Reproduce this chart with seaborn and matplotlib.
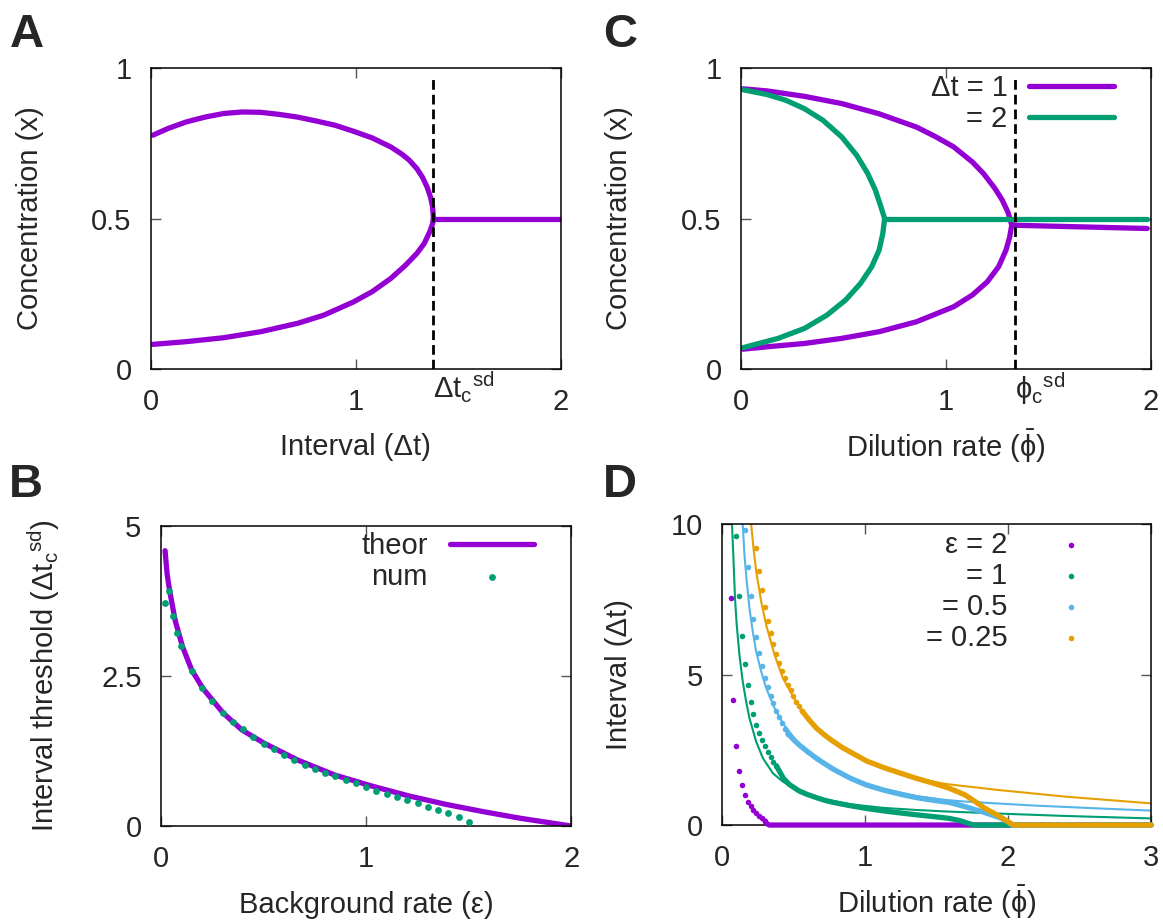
import numpy as np
import pandas as pd
import seaborn as sns
import matplotlib.pyplot as plt

sns.set_style("ticks")
plt.rcParams["font.family"] = ["Liberation Sans", "DejaVu Sans"]
plt.rcParams["mathtext.fontset"] = "custom"
plt.rcParams["mathtext.rm"] = "Liberation Sans"
plt.rcParams["mathtext.it"] = "Liberation Sans:italic"
plt.rcParams["mathtext.bf"] = "Liberation Sans:bold"
plt.rcParams["mathtext.fallback"] = "stixsans"

PURPLE = "#9400D3"
GREEN = "#009E73"
BLUE = "#56B4E9"
ORANGE = "#E69F00"
FS = 21

# ---- panel A: concentration vs interval ----
a_upper_x = [0.01, 0.082, 0.172, 0.263, 0.354, 0.444, 0.535, 0.626, 0.716, 0.807, 0.898, 0.988,
             1.079, 1.170, 1.224, 1.260, 1.297, 1.324, 1.347, 1.364, 1.374, 1.378]
a_upper_y = [0.777, 0.799, 0.821, 0.837, 0.849, 0.854, 0.853, 0.846, 0.837, 0.824, 0.810, 0.790,
             0.768, 0.738, 0.714, 0.694, 0.666, 0.638, 0.605, 0.571, 0.538, 0.5]
a_lower_x = [0.01, 0.172, 0.354, 0.535, 0.716, 0.843, 0.988, 1.079, 1.170, 1.242, 1.297, 1.333,
             1.360, 1.374, 1.378]
a_lower_y = [0.082, 0.091, 0.104, 0.124, 0.152, 0.179, 0.223, 0.257, 0.301, 0.345, 0.384, 0.417,
             0.456, 0.483, 0.5]
a_flat_x = [1.378, 2.0]
a_flat_y = [0.5, 0.5]
a_crit = 1.375

# ---- panel C: concentration vs dilution rate ----
c1_upper_x = [0.01, 0.128, 0.310, 0.492, 0.674, 0.856, 0.947, 1.038, 1.129, 1.184, 1.239, 1.275,
              1.302, 1.315, 1.321]
c1_upper_y = [0.931, 0.924, 0.906, 0.882, 0.848, 0.804, 0.773, 0.738, 0.688, 0.649, 0.600, 0.561,
              0.522, 0.494, 0.478]
c1_lower_x = [1.321, 1.311, 1.293, 1.257, 1.202, 1.129, 1.038, 0.856, 0.674, 0.492, 0.310, 0.128, 0.01]
c1_lower_y = [0.478, 0.439, 0.395, 0.340, 0.290, 0.246, 0.207, 0.157, 0.124, 0.102, 0.085, 0.074, 0.066]
c1_flat_x = [1.321, 1.982]
c1_flat_y = [0.478, 0.467]
c2_upper_x = [0.01, 0.128, 0.219, 0.310, 0.401, 0.492, 0.565, 0.619, 0.656, 0.683, 0.701]
c2_upper_y = [0.928, 0.912, 0.893, 0.865, 0.826, 0.771, 0.710, 0.649, 0.594, 0.539, 0.5]
c2_lower_x = [0.701, 0.692, 0.674, 0.638, 0.583, 0.510, 0.419, 0.310, 0.182, 0.01]
c2_lower_y = [0.5, 0.450, 0.395, 0.340, 0.284, 0.229, 0.179, 0.135, 0.102, 0.071]
c2_flat_x = [0.701, 1.982]
c2_flat_y = [0.5, 0.5]
c_crit = 1.339

# ---- panel B: threshold vs background rate ----
b_theor_x = [0.02, 0.03, 0.042, 0.069, 0.105, 0.15, 0.205, 0.304, 0.395, 0.503, 0.666, 0.847,
             1.028, 1.21, 1.39, 1.57, 1.75, 2.0]
b_theor_y = [4.59, 4.2, 3.93, 3.43, 2.99, 2.60, 2.29, 1.88, 1.60, 1.38, 1.10, 0.85,
             0.666, 0.50, 0.36, 0.24, 0.13, 0.0]
b_num_x = [0.02, 0.04, 0.06, 0.08, 0.10, 0.15, 0.20, 0.25, 0.30, 0.35, 0.40, 0.45, 0.50,
           0.55, 0.60, 0.65, 0.70, 0.75, 0.80, 0.85, 0.90, 0.95, 1.00, 1.05, 1.10, 1.15,
           1.20, 1.25, 1.30, 1.35, 1.40, 1.45, 1.50]
b_num_y = [3.72, 3.91, 3.50, 3.22, 3.00, 2.59, 2.30, 2.08, 1.89, 1.74, 1.61, 1.48, 1.37,
           1.28, 1.19, 1.10, 1.02, 0.95, 0.89, 0.83, 0.77, 0.71, 0.65, 0.59, 0.54, 0.49,
           0.43, 0.38, 0.32, 0.27, 0.21, 0.15, 0.06]

# ---- panel D: interval vs dilution rate, one set per background rate ----
d_labels = ["ε = 2", "= 1", "= 0.5", "= 0.25"]
d_colors = [PURPLE, GREEN, BLUE, ORANGE]

d2_dots_x = [0.06, 0.08, 0.10, 0.12, 0.14, 0.16, 0.18, 0.20, 0.22, 0.24, 0.26, 0.28, 0.30]
d2_dots_y = [7.55, 4.15, 2.63, 1.81, 1.32, 1.00, 0.78, 0.63, 0.51, 0.41, 0.31, 0.22, 0.14]
d2_band_x = [0.30, 0.31, 0.33, 3.0]
d2_band_y = [0.14, 0.06, 0.0, 0.0]
d2_theor_x = []
d2_theor_y = []

d1_dots_x = [0.10, 0.12, 0.14, 0.16, 0.18, 0.20, 0.22, 0.24, 0.26, 0.28, 0.30, 0.32, 0.34, 0.36, 0.38]
d1_dots_y = [9.61, 7.62, 6.29, 5.34, 4.65, 4.10, 3.68, 3.33, 3.05, 2.82, 2.61, 2.42, 2.25, 2.11, 1.97]
d1_band_x = [0.38, 0.43, 0.47, 0.54, 0.60, 0.66, 0.72, 0.78, 0.90, 1.01, 1.13, 1.25, 1.36, 1.48,
             1.59, 1.66, 1.70, 1.74, 1.76, 3.0]
d1_band_y = [1.97, 1.55, 1.35, 1.13, 1.01, 0.91, 0.82, 0.75, 0.64, 0.55, 0.47, 0.40, 0.34, 0.28,
             0.22, 0.15, 0.09, 0.03, 0.0, 0.0]
d1_theor_x = [0.07, 0.08, 0.091, 0.103, 0.122, 0.145, 0.169, 0.192, 0.239, 0.286, 0.356, 0.426,
              0.543, 0.66, 0.895, 1.13, 1.36, 1.57, 1.94, 2.41, 3.0]
d1_theor_y = [10.0, 8.87, 7.54, 6.65, 5.65, 4.77, 4.10, 3.55, 2.77, 2.22, 1.72, 1.44,
              1.11, 0.91, 0.69, 0.57, 0.50, 0.45, 0.38, 0.30, 0.22]

d05_dots_x = [0.16, 0.18, 0.20, 0.22, 0.24, 0.26, 0.28, 0.30, 0.32, 0.34, 0.36, 0.38, 0.40,
              0.42, 0.44, 0.46]
d05_dots_y = [9.79, 8.57, 7.62, 6.86, 6.24, 5.73, 5.30, 4.90, 4.58, 4.29, 4.04, 3.79, 3.58,
              3.38, 3.20, 3.04]
d05_band_x = [0.46, 0.50, 0.54, 0.60, 0.66, 0.72, 0.78, 0.90, 1.01, 1.13, 1.25, 1.36, 1.48,
              1.59, 1.70, 1.82, 1.94, 2.00, 2.03, 3.0]
d05_band_y = [3.04, 2.84, 2.66, 2.43, 2.22, 2.03, 1.85, 1.55, 1.33, 1.16, 1.02, 0.91, 0.82,
              0.75, 0.61, 0.44, 0.25, 0.11, 0.0, 0.0]
d05_theor_x = [0.145, 0.157, 0.173, 0.192, 0.215, 0.239, 0.274, 0.309, 0.368, 0.426, 0.543,
               0.66, 0.895, 1.13, 1.36, 1.57, 1.70, 2.17, 2.64, 3.0]
d05_theor_y = [10.0, 8.98, 8.09, 7.21, 6.43, 5.76, 5.10, 4.55, 3.88, 3.38, 2.66,
               2.16, 1.55, 1.20, 0.96, 0.83, 0.78, 0.65, 0.55, 0.48]

d025_dots_x = [0.24, 0.26, 0.28, 0.30, 0.32, 0.34, 0.36, 0.38, 0.40, 0.42, 0.44, 0.46, 0.48,
               0.50, 0.52, 0.54, 0.56]
d025_dots_y = [9.20, 8.45, 7.80, 7.26, 6.78, 6.37, 6.01, 5.68, 5.40, 5.12, 4.89, 4.66, 4.47,
               4.28, 4.10, 3.94, 3.79]
d025_band_x = [0.56, 0.61, 0.66, 0.72, 0.78, 0.84, 0.90, 1.01, 1.13, 1.25, 1.36, 1.47, 1.59,
               1.70, 1.77, 1.84, 1.91, 1.97, 2.01, 2.04, 3.0]
d025_band_y = [3.79, 3.49, 3.22, 2.98, 2.77, 2.58, 2.42, 2.13, 1.91, 1.72, 1.55, 1.40, 1.22,
               1.00, 0.78, 0.55, 0.37, 0.20, 0.08, 0.0, 0.0]
d025_theor_x = [0.204, 0.22, 0.239, 0.274, 0.309, 0.368, 0.426, 0.543, 0.66, 0.895, 1.13,
                1.36, 1.57, 1.94, 2.41, 3.0]
d025_theor_y = [10.0, 9.2, 8.43, 7.43, 6.65, 5.65, 4.88, 3.88, 3.22, 2.38, 1.88,
                1.55, 1.36, 1.16, 0.94, 0.72]

d_series = [
    (d2_dots_x, d2_dots_y, d2_band_x, d2_band_y, d2_theor_x, d2_theor_y),
    (d1_dots_x, d1_dots_y, d1_band_x, d1_band_y, d1_theor_x, d1_theor_y),
    (d05_dots_x, d05_dots_y, d05_band_x, d05_band_y, d05_theor_x, d05_theor_y),
    (d025_dots_x, d025_dots_y, d025_band_x, d025_band_y, d025_theor_x, d025_theor_y),
]

xt_2 = [0, 1, 2]
xt_3 = [0, 1, 2, 3]
yt_conc = [0, 0.5, 1]
yt_conc_lab = ["0", "0.5", "1"]
yt_b = [0, 2.5, 5]
yt_b_lab = ["0", "2.5", "5"]
yt_d = [0, 5, 10]

DT_CSD = r"$\mathrm{\Delta t_c{}^{sd}}$"


def style(ax, xlim, ylim, xticks, yticks, ylabels):
    ax.set_xlim(xlim)
    ax.set_ylim(ylim)
    ax.set_xticks(xticks, [str(t) for t in xticks])
    ax.set_yticks(yticks, ylabels)
    ax.tick_params(direction="in", top=True, right=True, length=7.5, width=1,
                   color="#555555", labelsize=FS, pad=14)
    for s in ax.spines.values():
        s.set_visible(True)
        s.set_linewidth(1.1)
        s.set_color("black")


def line(ax, x, y, color, lw, label=None):
    sns.lineplot(x=x, y=y, ax=ax, color=color, lw=lw, sort=False, estimator=None,
                 label=label, legend=False)
    ln = ax.lines[-1]
    ln.set_solid_joinstyle("round")
    return ln


fig = plt.figure(figsize=(11.63, 9.21), dpi=100)
ax_a = fig.add_axes([0.1298, 0.5993, 0.3525, 0.3268])
ax_c = fig.add_axes([0.6371, 0.5993, 0.3525, 0.3268])
ax_b = fig.add_axes([0.1384, 0.1031, 0.3530, 0.3257])
ax_d = fig.add_axes([0.6208, 0.1042, 0.3689, 0.3268])

# A
line(ax_a, a_upper_x, a_upper_y, PURPLE, 3.8)
line(ax_a, a_lower_x, a_lower_y, PURPLE, 3.8)
line(ax_a, a_flat_x, a_flat_y, PURPLE, 3.8)
ax_a.axvline(a_crit, ymin=0, ymax=0.977, color="black", lw=2.0, dashes=(3.5, 1.8))
style(ax_a, (0, 2), (0, 1), xt_2, yt_conc, yt_conc_lab)
ax_a.text(a_crit, -0.097, DT_CSD, transform=ax_a.get_xaxis_transform(),
          ha="left", va="baseline", fontsize=FS)
ax_a.set_xlabel("Interval (Δt)", fontsize=FS, va="center")
ax_a.xaxis.set_label_coords(0.5, -0.259)
ax_a.set_ylabel("Concentration (x)", fontsize=FS, va="center")
ax_a.yaxis.set_label_coords(-0.295, 0.5)

# C
h1 = line(ax_c, c1_upper_x, c1_upper_y, PURPLE, 3.8, label="Δt = 1")
line(ax_c, c1_lower_x, c1_lower_y, PURPLE, 3.8)
line(ax_c, c1_flat_x, c1_flat_y, PURPLE, 3.8)
h2 = line(ax_c, c2_upper_x, c2_upper_y, GREEN, 3.8, label="= 2")
line(ax_c, c2_lower_x, c2_lower_y, GREEN, 3.8)
line(ax_c, c2_flat_x, c2_flat_y, GREEN, 3.8)
ax_c.axvline(c_crit, ymin=0, ymax=0.975, color="black", lw=2.0, dashes=(3.5, 1.8))
style(ax_c, (0, 2), (0, 1), xt_2, yt_conc, yt_conc_lab)
ax_c.text(c_crit, -0.1, r"$\mathrm{\phi_c{}^{sd}}$", transform=ax_c.get_xaxis_transform(),
          ha="left", va="baseline", fontsize=FS)
ax_c.legend(handles=[h1, h2], labels=["Δt = 1", "= 2"], loc="upper right",
            bbox_to_anchor=(0.91, 0.98), frameon=False, markerfirst=False, handlelength=2.9,
            handletextpad=0.75, labelspacing=0.1, borderpad=0, borderaxespad=0, fontsize=FS)
ax_c.set_xlabel(r"Dilution rate ($\mathrm{\bar{\phi}}$)", fontsize=FS, va="center")
ax_c.xaxis.set_label_coords(0.5, -0.258)
ax_c.set_ylabel("Concentration (x)", fontsize=FS, va="center")
ax_c.yaxis.set_label_coords(-0.298, 0.5)

# B
hb1 = line(ax_b, b_theor_x, b_theor_y, PURPLE, 3.8, label="theor")
sns.scatterplot(x=b_num_x, y=b_num_y, ax=ax_b, color=GREEN, s=24, linewidth=0, legend=False,
                zorder=3)
hb2 = ax_b.collections[-1]
style(ax_b, (0, 2), (0, 5), xt_2, yt_b, yt_b_lab)
ax_b.legend(handles=[hb1, hb2], labels=["theor", "num"], loc="upper right",
            bbox_to_anchor=(0.909, 0.98), frameon=False, markerfirst=False, handlelength=2.9,
            handletextpad=0.75, labelspacing=0.1, borderpad=0, borderaxespad=0, fontsize=FS)
ax_b.set_xlabel("Background rate (ε)", fontsize=FS, va="center")
ax_b.xaxis.set_label_coords(0.5, -0.263)
ax_b.set_ylabel("Interval threshold (" + DT_CSD + ")", fontsize=FS, va="center")
ax_b.yaxis.set_label_coords(-0.285, 0.5)

# D
d_handles = []
for (dx, dy, bx, by, tx, ty), col in zip(d_series, d_colors):
    if tx:
        line(ax_d, tx, ty, col, 1.5)
    sns.scatterplot(x=dx, y=dy, ax=ax_d, color=col, s=16, linewidth=0, legend=False, zorder=3)
    d_handles.append(ax_d.collections[-1])
    band = line(ax_d, bx, by, col, 3.8)
    band.set_clip_on(False)
    band.set_zorder(3)
style(ax_d, (0, 3), (0, 10), xt_3, yt_d, [str(t) for t in yt_d])
ax_d.legend(handles=d_handles, labels=d_labels, loc="upper right",
            bbox_to_anchor=(0.913, 0.977), frameon=False, markerfirst=False, handlelength=2.9,
            handletextpad=0.75, labelspacing=0.1, borderpad=0, borderaxespad=0, fontsize=FS)
ax_d.set_xlabel(r"Dilution rate ($\mathrm{\bar{\phi}}$)", fontsize=FS, va="center")
ax_d.xaxis.set_label_coords(0.5, -0.258)
ax_d.set_ylabel("Interval (Δt)", fontsize=FS, va="center")
ax_d.yaxis.set_label_coords(-0.240, 0.5)

# panel letters
for letter, px, py in [("A", 10, 47), ("B", 9, 497), ("C", 603, 47), ("D", 603, 497)]:
    fig.text(px / 1163, 1 - py / 921, letter, fontsize=34, fontweight="bold",
             ha="left", va="baseline")

fig.savefig("out.png", dpi=100)
